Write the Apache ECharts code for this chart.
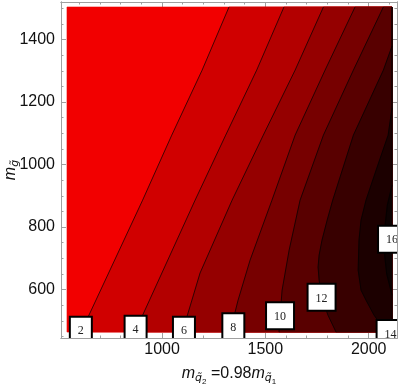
<!DOCTYPE html>
<html><head><meta charset="utf-8">
<script src="https://cdn.jsdelivr.net/npm/echarts@6/dist/echarts.min.js"></script>
<style>html,body{margin:0;padding:0;background:#fff;}#c{width:399px;height:387px;}</style>
</head><body><div id="c"></div>
<script>
// ---- data ----
const xRange = [540, 2113];
const yRange = [464, 1504];
const frameX = [511, 2137];
const frameY = [445, 1520];

const contourLevels = [2, 4, 6, 8, 10, 12, 14, 16];
const contour2  = [[1324,1504],[1194,1302],[1047,1094],[906,886],[642,512],[608,464]];
const contour4  = [[1590,1504],[1458,1302],[1308,1094],[1160,886],[902,512],[867,464]];
const contour6  = [[1781,1504],[1644,1302],[1490,1094],[1339,886],[1184,653],[1120,512],[1097,464]];
const contour8  = [[1934,1504],[1789,1302],[1644,1094],[1532,886],[1426,694],[1368,566],[1329,464]];
const contour10 = [[2071,1504],[1926,1302],[1781,1094],[1668,886],[1615,726],[1581,598],[1571,515],[1566,464]];
const contour12 = [[2113,1379],[2071,1302],[1926,1094],[1826,886],[1799,822],[1774,758],[1760,710],[1755,672],[1760,630],[1774,573],[1803,518],[1842,464]];
const contour14 = [[2113,1181],[2094,1094],[2040,990],[1987,886],[1963,822],[1953,758],[1949,662],[1963,598],[1987,566],[2026,518],[2084,464]];
const contour16 = [[2113,934],[2090,870],[2080,810],[2074,758],[2077,710],[2087,650],[2113,582]];

const labelValues = [2, 4, 6, 8, 10, 12, 14, 16];
const labelX = [607, 872, 1106, 1345, 1571, 1772, 2106, 2113];
const labelY = [470, 473, 470, 481, 516, 575, 459, 761];

const xTicksMajor = [1000, 1500, 2000];
const xTicksMinor = [600,700,800,900,1100,1200,1300,1400,1600,1700,1800,1900,2100];
const yTicksMajor = [600, 800, 1000, 1200, 1400];
const yTicksMinor = [450,500,550,650,700,750,850,900,950,1050,1100,1150,1250,1300,1350,1450,1500];

// ---- styles ----
const bandColors = ['#f20000','#d00000','#b30000','#950000','#770000','#590000','#380000','#1c0000','#0d0202'];
const axisColor = '#a0a0a0';
const textColor = '#111';

const contours = [contour2, contour4, contour6, contour8, contour10, contour12, contour14, contour16];

function fillItem(params, api) {
  const i = api.value(2);
  let pts;
  if (i === 0) {
    pts = [[xRange[0], yRange[0]], [xRange[1], yRange[0]], [xRange[1], yRange[1]], [xRange[0], yRange[1]]];
  } else {
    pts = contours[i - 1].concat([[xRange[1], yRange[0]], [xRange[1], yRange[1]]]);
  }
  return {
    type: 'polygon',
    shape: { points: pts.map(p => api.coord(p)) },
    style: { fill: bandColors[i], stroke: bandColors[i], lineWidth: 0.6 }
  };
}

function labelItem(params, api) {
  const c = api.coord([api.value(0), api.value(1)]);
  const txt = String(api.value(2));
  const w = txt.length > 1 ? 28 : 22;
  const h = 27;
  return {
    type: 'group',
    children: [
      { type: 'rect', shape: { x: c[0] - w / 2, y: c[1] - h / 2, width: w, height: h },
        style: { fill: '#fff', stroke: '#000', lineWidth: 2 } },
      { type: 'text', x: c[0], y: c[1] + 1,
        style: { text: txt, fill: '#222', font: '12px "Liberation Serif", serif', align: 'center', verticalAlign: 'middle' } }
    ]
  };
}

const plain = v => String(v);

function xAx(pos, ticks, len, showLabel, extra) {
  return Object.assign({
    type: 'value', position: pos, min: frameX[0], max: frameX[1],
    axisLine: { show: true, onZero: false, lineStyle: { color: axisColor, width: 1 } },
    axisTick: { show: true, inside: true, length: len, customValues: ticks, lineStyle: { color: axisColor, width: 1 } },
    axisLabel: { show: showLabel, customValues: ticks, formatter: plain, margin: 4, color: textColor, fontSize: 16, fontFamily: 'Liberation Sans' },
    splitLine: { show: false }
  }, extra || {});
}
function yAx(pos, ticks, len, showLabel, extra) {
  return Object.assign({
    type: 'value', position: pos, min: frameY[0], max: frameY[1],
    axisLine: { show: true, onZero: false, lineStyle: { color: axisColor, width: 1 } },
    axisTick: { show: true, inside: true, length: len, customValues: ticks, lineStyle: { color: axisColor, width: 1 } },
    axisLabel: { show: showLabel, customValues: ticks, formatter: plain, margin: 6, color: textColor, fontSize: 16, fontFamily: 'Liberation Sans' },
    splitLine: { show: false }
  }, extra || {});
}

const richName = {
  m: { fontSize: 16, fontStyle: 'italic', fontFamily: 'Liberation Sans', color: textColor },
  n: { fontSize: 16, fontFamily: 'Liberation Sans', color: textColor },
  s: { fontSize: 11, fontStyle: 'italic', fontFamily: 'DejaVu Sans', color: textColor, padding: [9, 0, 0, 0] },
  ss: { fontSize: 8, fontFamily: 'Liberation Sans', color: textColor, padding: [16, 0, 0, 0] }
};

const chart = echarts.init(document.getElementById('c'), null, { renderer: 'canvas' });
const series = [];
series.push({
  type: 'custom', xAxisIndex: 0, yAxisIndex: 0, clip: true, silent: true, z: 1,
  renderItem: fillItem,
  data: bandColors.map((_, i) => [xRange[0], yRange[0], i])
});
contours.forEach((c) => {
  series.push({
    type: 'line', xAxisIndex: 0, yAxisIndex: 0, data: c, showSymbol: false, symbol: 'none',
    silent: true, z: 3, clip: true, animation: false,
    lineStyle: { color: '#000', width: 0.8, opacity: 0.85 }
  });
});
series.push({
  type: 'custom', xAxisIndex: 0, yAxisIndex: 0, clip: true, silent: true, z: 5,
  renderItem: labelItem,
  data: labelValues.map((v, i) => [labelX[i], labelY[i], v])
});

chart.setOption({
  animation: false,
  backgroundColor: '#fff',
  grid: { left: 61, top: 2, right: 2, bottom: 49, containLabel: false, outerBoundsMode: 'none' },
  xAxis: [
    xAx('bottom', xTicksMajor, 5, true, {
      name: '{m|m}{s|q\u0303}{ss|2}{n| =0.98}{m|m}{s|q\u0303}{ss|1}',
      nameLocation: 'middle', nameGap: 24,
      nameTextStyle: { rich: richName }
    }),
    xAx('bottom', xTicksMinor, 2.5, false),
    xAx('top', xTicksMajor, 5, false),
    xAx('top', xTicksMinor, 2.5, false)
  ],
  yAxis: [
    yAx('left', yTicksMajor, 5, true, {
      name: '{m|m}{s|g\u0303}',
      nameLocation: 'middle', nameGap: 40, nameRotate: 90, nameMoveOverlap: false,
      nameTextStyle: { rich: richName }
    }),
    yAx('left', yTicksMinor, 2.5, false),
    yAx('right', yTicksMajor, 5, false),
    yAx('right', yTicksMinor, 2.5, false)
  ],
  series: series
});
</script>
</body></html>
